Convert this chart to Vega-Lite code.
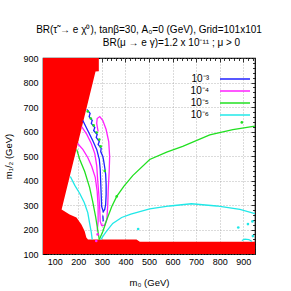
{
  "$schema": "https://vega.github.io/schema/vega-lite/v6.json",
  "width": 212,
  "height": 196,
  "autosize": "none",
  "padding": {"left": 43, "top": 58, "right": 36, "bottom": 37},
  "background": "white",
  "title": {
    "text": "BR(τ̃ →  e χ⁰),  tanβ=30, A₀=0 (GeV), Grid=101x101",
    "anchor": "middle",
    "font": "Liberation Sans",
    "fontSize": 10,
    "fontWeight": "normal",
    "color": "black",
    "offset": 2
  },
  "config": {
    "view": {"stroke": "black", "strokeWidth": 1.2},
    "font": "Liberation Sans",
    "axis": {"labelFont": "Liberation Sans", "titleFont": "Liberation Sans", "labelColor": "black", "titleColor": "black", "tickColor": "black"}
  },
  "datasets": {
    "red": [
      {"m12": 100, "m0": 950}, {"m12": 150, "m0": 950}, {"m12": 150.5, "m0": 461},
      {"m12": 159, "m0": 447}, {"m12": 159.5, "m0": 241}, {"m12": 167, "m0": 234},
      {"m12": 193, "m0": 227}, {"m12": 220, "m0": 213}, {"m12": 249, "m0": 192},
      {"m12": 261, "m0": 163}, {"m12": 282, "m0": 129}, {"m12": 845, "m0": 273},
      {"m12": 846, "m0": 287}, {"m12": 900, "m0": 287}
    ],
    "lines": [
      {"lev": "10⁻³", "seg": "b1", "i": 1, "m0": 236, "m12": 690},
      {"lev": "10⁻³", "seg": "b1", "i": 2, "m0": 250, "m12": 674},
      {"lev": "10⁻³", "seg": "b1", "i": 3, "m0": 246, "m12": 661},
      {"lev": "10⁻³", "seg": "b1", "i": 4, "m0": 259, "m12": 645},
      {"lev": "10⁻³", "seg": "b1", "i": 5, "m0": 255, "m12": 633},
      {"lev": "10⁻³", "seg": "b1", "i": 6, "m0": 270, "m12": 616},
      {"lev": "10⁻³", "seg": "b1", "i": 7, "m0": 265, "m12": 604},
      {"lev": "10⁻³", "seg": "b1", "i": 8, "m0": 280, "m12": 588},
      {"lev": "10⁻³", "seg": "b1", "i": 9, "m0": 276, "m12": 576},
      {"lev": "10⁻³", "seg": "b1", "i": 10, "m0": 289, "m12": 559},
      {"lev": "10⁻³", "seg": "b1", "i": 11, "m0": 284, "m12": 547},
      {"lev": "10⁻³", "seg": "b1", "i": 12, "m0": 297, "m12": 531},
      {"lev": "10⁻³", "seg": "b1", "i": 13, "m0": 295, "m12": 518},
      {"lev": "10⁻³", "seg": "b1", "i": 14, "m0": 304, "m12": 498},
      {"lev": "10⁻³", "seg": "b1", "i": 15, "m0": 308, "m12": 478},
      {"lev": "10⁻³", "seg": "b1", "i": 16, "m0": 312, "m12": 453},
      {"lev": "10⁻³", "seg": "b1", "i": 17, "m0": 316, "m12": 425},
      {"lev": "10⁻³", "seg": "b1", "i": 18, "m0": 318, "m12": 384},
      {"lev": "10⁻³", "seg": "b1", "i": 19, "m0": 318, "m12": 343},
      {"lev": "10⁻³", "seg": "b1", "i": 20, "m0": 316, "m12": 302},
      {"lev": "10⁻³", "seg": "b1", "i": 21, "m0": 312, "m12": 282},
      {"lev": "10⁻³", "seg": "b1", "i": 22, "m0": 306, "m12": 273},
      {"lev": "10⁻³", "seg": "b1", "i": 23, "m0": 299, "m12": 294},
      {"lev": "10⁻³", "seg": "b1", "i": 24, "m0": 297, "m12": 343},
      {"lev": "10⁻³", "seg": "b1", "i": 25, "m0": 295, "m12": 392},
      {"lev": "10⁻³", "seg": "b1", "i": 26, "m0": 293, "m12": 445},
      {"lev": "10⁻³", "seg": "b1", "i": 27, "m0": 289, "m12": 486},
      {"lev": "10⁻³", "seg": "b1", "i": 28, "m0": 278, "m12": 527},
      {"lev": "10⁻³", "seg": "b1", "i": 29, "m0": 261, "m12": 563},
      {"lev": "10⁻³", "seg": "b1", "i": 30, "m0": 240, "m12": 604},
      {"lev": "10⁻³", "seg": "b1", "i": 31, "m0": 219, "m12": 645},
      {"lev": "10⁻³", "seg": "b2", "i": 1, "m0": 304, "m12": 257},
      {"lev": "10⁻³", "seg": "b2", "i": 2, "m0": 306, "m12": 233},
      {"lev": "10⁻⁴", "seg": "p1", "i": 1, "m0": 197, "m12": 551},
      {"lev": "10⁻⁴", "seg": "p1", "i": 2, "m0": 219, "m12": 527},
      {"lev": "10⁻⁴", "seg": "p1", "i": 3, "m0": 240, "m12": 494},
      {"lev": "10⁻⁴", "seg": "p1", "i": 4, "m0": 257, "m12": 457},
      {"lev": "10⁻⁴", "seg": "p1", "i": 5, "m0": 272, "m12": 412},
      {"lev": "10⁻⁴", "seg": "p1", "i": 6, "m0": 280, "m12": 355},
      {"lev": "10⁻⁴", "seg": "p1", "i": 7, "m0": 284, "m12": 294},
      {"lev": "10⁻⁴", "seg": "p1", "i": 8, "m0": 284, "m12": 233},
      {"lev": "10⁻⁴", "seg": "p1", "i": 9, "m0": 280, "m12": 192},
      {"lev": "10⁻⁴", "seg": "p2", "i": 1, "m0": 214, "m12": 620},
      {"lev": "10⁻⁴", "seg": "p2", "i": 2, "m0": 236, "m12": 588},
      {"lev": "10⁻⁴", "seg": "p2", "i": 3, "m0": 255, "m12": 551},
      {"lev": "10⁻⁴", "seg": "p2", "i": 4, "m0": 270, "m12": 510},
      {"lev": "10⁻⁴", "seg": "p2", "i": 5, "m0": 278, "m12": 461},
      {"lev": "10⁻⁴", "seg": "p2", "i": 6, "m0": 282, "m12": 404},
      {"lev": "10⁻⁴", "seg": "p2", "i": 7, "m0": 287, "m12": 343},
      {"lev": "10⁻⁴", "seg": "p2", "i": 8, "m0": 291, "m12": 282},
      {"lev": "10⁻⁴", "seg": "p2", "i": 9, "m0": 293, "m12": 233},
      {"lev": "10⁻⁴", "seg": "p2", "i": 10, "m0": 299, "m12": 216},
      {"lev": "10⁻⁴", "seg": "p2", "i": 11, "m0": 312, "m12": 218},
      {"lev": "10⁻⁴", "seg": "p2", "i": 12, "m0": 321, "m12": 241},
      {"lev": "10⁻⁴", "seg": "p2", "i": 13, "m0": 325, "m12": 302},
      {"lev": "10⁻⁴", "seg": "p2", "i": 14, "m0": 327, "m12": 363},
      {"lev": "10⁻⁴", "seg": "p2", "i": 15, "m0": 331, "m12": 437},
      {"lev": "10⁻⁴", "seg": "p2", "i": 16, "m0": 333, "m12": 498},
      {"lev": "10⁻⁴", "seg": "p2", "i": 17, "m0": 329, "m12": 559},
      {"lev": "10⁻⁴", "seg": "p2", "i": 18, "m0": 318, "m12": 608},
      {"lev": "10⁻⁴", "seg": "p2", "i": 19, "m0": 304, "m12": 645},
      {"lev": "10⁻⁴", "seg": "p2", "i": 20, "m0": 291, "m12": 661},
      {"lev": "10⁻⁴", "seg": "p2", "i": 21, "m0": 280, "m12": 653},
      {"lev": "10⁻⁴", "seg": "p2", "i": 22, "m0": 278, "m12": 633},
      {"lev": "10⁻⁴", "seg": "p2", "i": 23, "m0": 284, "m12": 600},
      {"lev": "10⁻⁵", "seg": "g1", "i": 1, "m0": 193, "m12": 527},
      {"lev": "10⁻⁵", "seg": "g1", "i": 2, "m0": 206, "m12": 486},
      {"lev": "10⁻⁵", "seg": "g1", "i": 3, "m0": 227, "m12": 437},
      {"lev": "10⁻⁵", "seg": "g1", "i": 4, "m0": 248, "m12": 371},
      {"lev": "10⁻⁵", "seg": "g1", "i": 5, "m0": 261, "m12": 314},
      {"lev": "10⁻⁵", "seg": "g1", "i": 6, "m0": 274, "m12": 249},
      {"lev": "10⁻⁵", "seg": "g1", "i": 7, "m0": 282, "m12": 200},
      {"lev": "10⁻⁵", "seg": "g1", "i": 8, "m0": 289, "m12": 159},
      {"lev": "10⁻⁵", "seg": "g2", "i": 1, "m0": 289, "m12": 159},
      {"lev": "10⁻⁵", "seg": "g2", "i": 2, "m0": 304, "m12": 192},
      {"lev": "10⁻⁵", "seg": "g2", "i": 3, "m0": 321, "m12": 241},
      {"lev": "10⁻⁵", "seg": "g2", "i": 4, "m0": 342, "m12": 294},
      {"lev": "10⁻⁵", "seg": "g2", "i": 5, "m0": 363, "m12": 335},
      {"lev": "10⁻⁵", "seg": "g2", "i": 6, "m0": 393, "m12": 376},
      {"lev": "10⁻⁵", "seg": "g2", "i": 7, "m0": 431, "m12": 420},
      {"lev": "10⁻⁵", "seg": "g2", "i": 8, "m0": 503, "m12": 486},
      {"lev": "10⁻⁵", "seg": "g2", "i": 9, "m0": 575, "m12": 516},
      {"lev": "10⁻⁵", "seg": "g2", "i": 10, "m0": 643, "m12": 539},
      {"lev": "10⁻⁵", "seg": "g2", "i": 11, "m0": 758, "m12": 586},
      {"lev": "10⁻⁵", "seg": "g2", "i": 12, "m0": 856, "m12": 608},
      {"lev": "10⁻⁵", "seg": "g2", "i": 13, "m0": 950, "m12": 622},
      {"lev": "10⁻⁶", "seg": "c1", "i": 1, "m0": 166, "m12": 416},
      {"lev": "10⁻⁶", "seg": "c1", "i": 2, "m0": 185, "m12": 380},
      {"lev": "10⁻⁶", "seg": "c1", "i": 3, "m0": 206, "m12": 347},
      {"lev": "10⁻⁶", "seg": "c1", "i": 4, "m0": 225, "m12": 310},
      {"lev": "10⁻⁶", "seg": "c1", "i": 5, "m0": 240, "m12": 269},
      {"lev": "10⁻⁶", "seg": "c1", "i": 6, "m0": 248, "m12": 225},
      {"lev": "10⁻⁶", "seg": "c1", "i": 7, "m0": 255, "m12": 188},
      {"lev": "10⁻⁶", "seg": "c1", "i": 8, "m0": 259, "m12": 159},
      {"lev": "10⁻⁶", "seg": "c2", "i": 1, "m0": 295, "m12": 159},
      {"lev": "10⁻⁶", "seg": "c2", "i": 2, "m0": 316, "m12": 188},
      {"lev": "10⁻⁶", "seg": "c2", "i": 3, "m0": 346, "m12": 225},
      {"lev": "10⁻⁶", "seg": "c2", "i": 4, "m0": 384, "m12": 249},
      {"lev": "10⁻⁶", "seg": "c2", "i": 5, "m0": 423, "m12": 263},
      {"lev": "10⁻⁶", "seg": "c2", "i": 6, "m0": 503, "m12": 284},
      {"lev": "10⁻⁶", "seg": "c2", "i": 7, "m0": 588, "m12": 296},
      {"lev": "10⁻⁶", "seg": "c2", "i": 8, "m0": 680, "m12": 305},
      {"lev": "10⁻⁶", "seg": "c2", "i": 9, "m0": 787, "m12": 296},
      {"lev": "10⁻⁶", "seg": "c2", "i": 10, "m0": 886, "m12": 282},
      {"lev": "10⁻⁶", "seg": "c2", "i": 11, "m0": 950, "m12": 265},
      {"lev": "10⁻⁶", "seg": "c3", "i": 1, "m0": 894, "m12": 155},
      {"lev": "10⁻⁶", "seg": "c3", "i": 2, "m0": 907, "m12": 161},
      {"lev": "10⁻⁶", "seg": "c3", "i": 3, "m0": 924, "m12": 159},
      {"lev": "10⁻⁶", "seg": "c3", "i": 4, "m0": 937, "m12": 151}
    ],
    "dots": [
      {"lev": "10⁻⁵", "m0": 240, "m12": 682},
      {"lev": "10⁻⁵", "m0": 253, "m12": 653},
      {"lev": "10⁻⁵", "m0": 265, "m12": 625},
      {"lev": "10⁻⁵", "m0": 278, "m12": 596},
      {"lev": "10⁻⁵", "m0": 289, "m12": 567},
      {"lev": "10⁻⁵", "m0": 295, "m12": 539},
      {"lev": "10⁻⁵", "m0": 312, "m12": 439},
      {"lev": "10⁻⁵", "m0": 363, "m12": 335},
      {"lev": "10⁻⁵", "m0": 894, "m12": 637},
      {"lev": "10⁻⁴", "m0": 282, "m12": 180},
      {"lev": "10⁻⁴", "m0": 276, "m12": 153},
      {"lev": "10⁻⁶", "m0": 454, "m12": 202},
      {"lev": "10⁻⁶", "m0": 879, "m12": 208},
      {"lev": "10⁻⁶", "m0": 920, "m12": 222},
      {"lev": "10⁻⁶", "m0": 939, "m12": 233},
      {"lev": "10⁻⁶", "m0": 941, "m12": 173}
    ]
  },
  "layer": [
    {
      "data": {"name": "red"},
      "mark": {"type": "area", "orient": "horizontal", "color": "#ff0000", "clip": true},
      "encoding": {
        "y": {
          "field": "m12", "type": "quantitative",
          "scale": {"domain": [100, 900], "nice": false, "zero": false},
          "axis": {
            "orient": "left",
            "values": [100, 120, 140, 160, 180, 200, 220, 240, 260, 280, 300, 320, 340, 360, 380, 400, 420, 440, 460, 480, 500, 520, 540, 560, 580, 600, 620, 640, 660, 680, 700, 720, 740, 760, 780, 800, 820, 840, 860, 880, 900],
            "labelExpr": "datum.value % 100 === 0 ? datum.label : ''",
            "tickSize": {"condition": {"test": "datum.value % 100 === 0", "value": -4}, "value": -2.5},
            "grid": true,
            "gridColor": "#999999",
            "gridDash": [1, 2],
            "gridWidth": 0.7,
            "gridOpacity": {"condition": {"test": "datum.value % 100 === 0", "value": 1}, "value": 0},
            "domain": false,
            "labelFontSize": 9,
            "labelPadding": 9,
            "labelOverlap": false,
            "labelFlush": false,
            "title": "m₁/₂ (GeV)",
            "titleFontSize": 9.5,
            "titleFontWeight": "normal",
            "titlePadding": 9
          }
        },
        "x": {
          "field": "m0", "type": "quantitative",
          "scale": {"domain": [50, 950], "nice": false, "zero": false},
          "axis": {
            "orient": "bottom",
            "values": [60, 80, 100, 120, 140, 160, 180, 200, 220, 240, 260, 280, 300, 320, 340, 360, 380, 400, 420, 440, 460, 480, 500, 520, 540, 560, 580, 600, 620, 640, 660, 680, 700, 720, 740, 760, 780, 800, 820, 840, 860, 880, 900, 920, 940],
            "labelExpr": "datum.value % 100 === 0 ? datum.label : ''",
            "tickSize": {"condition": {"test": "datum.value % 100 === 0", "value": -4}, "value": -2.5},
            "grid": true,
            "gridColor": "#999999",
            "gridDash": [1, 2],
            "gridWidth": 0.7,
            "gridOpacity": {"condition": {"test": "datum.value % 100 === 0", "value": 1}, "value": 0},
            "domain": false,
            "labelFontSize": 9,
            "labelPadding": 7,
            "labelOverlap": false,
            "labelFlush": false,
            "title": "m₀ (GeV)",
            "titleFontSize": 9.5,
            "titleFontWeight": "normal",
            "titlePadding": 10
          }
        },
        "x2": {"datum": 50}
      }
    },
    {
      "data": {"name": "lines"},
      "mark": {"type": "line", "strokeWidth": 1.3, "clip": true},
      "encoding": {
        "x": {"field": "m0", "type": "quantitative", "axis": null},
        "y": {"field": "m12", "type": "quantitative", "axis": null},
        "color": {
          "field": "lev", "type": "nominal",
          "scale": {"domain": ["10⁻³", "10⁻⁴", "10⁻⁵", "10⁻⁶"], "range": ["#2020ff", "#ff20ff", "#20e020", "#20e8e8"]},
          "legend": {
            "orient": "none",
            "legendX": 186,
            "legendY": 15,
            "title": null,
            "symbolType": "M-3,0H3",
            "symbolSize": 100,
            "symbolStrokeWidth": 1.5,
            "labelAlign": "right",
            "labelOffset": -32,
            "labelFontSize": 10,
            "labelFont": "Liberation Sans",
            "labelColor": "black",
            "rowPadding": 1,
            "padding": 0
          }
        },
        "detail": {"field": "seg"},
        "order": {"field": "i", "type": "quantitative"}
      }
    },
    {
      "data": {"name": "dots"},
      "mark": {"type": "point", "filled": true, "size": 7, "opacity": 1, "clip": true},
      "encoding": {
        "x": {
          "field": "m0", "type": "quantitative",
          "axis": {
            "orient": "top",
            "values": [60, 80, 100, 120, 140, 160, 180, 200, 220, 240, 260, 280, 300, 320, 340, 360, 380, 400, 420, 440, 460, 480, 500, 520, 540, 560, 580, 600, 620, 640, 660, 680, 700, 720, 740, 760, 780, 800, 820, 840, 860, 880, 900, 920, 940],
            "labels": false,
            "grid": false,
            "domain": false,
            "tickWidth": 0.8,
            "tickSize": {"condition": {"test": "datum.value % 100 === 0", "value": -4}, "value": -2.5},
            "title": "BR(μ → e γ)=1.2 x 10⁻¹¹ ; μ > 0",
            "titleFontSize": 10,
            "titleFontWeight": "normal",
            "titleX": 128,
            "titleY": -11,
            "titleAlign": "center",
            "titleBaseline": "bottom"
          }
        },
        "y": {
          "field": "m12", "type": "quantitative",
          "axis": {
            "orient": "right",
            "values": [120, 140, 160, 180, 200, 220, 240, 260, 280, 300, 320, 340, 360, 380, 400, 420, 440, 460, 480, 500, 520, 540, 560, 580, 600, 620, 640, 660, 680, 700, 720, 740, 760, 780, 800, 820, 840, 860, 880],
            "labels": false,
            "grid": false,
            "domain": false,
            "tickWidth": 0.8,
            "tickSize": {"condition": {"test": "datum.value % 100 === 0", "value": -4}, "value": -2.5},
            "title": null
          }
        },
        "fill": {
          "field": "lev", "type": "nominal",
          "scale": {"domain": ["10⁻³", "10⁻⁴", "10⁻⁵", "10⁻⁶"], "range": ["#2020ff", "#ff20ff", "#20e020", "#20e8e8"]},
          "legend": null
        }
      }
    }
  ],
  "resolve": {"axis": {"x": "independent", "y": "independent"}}
}
